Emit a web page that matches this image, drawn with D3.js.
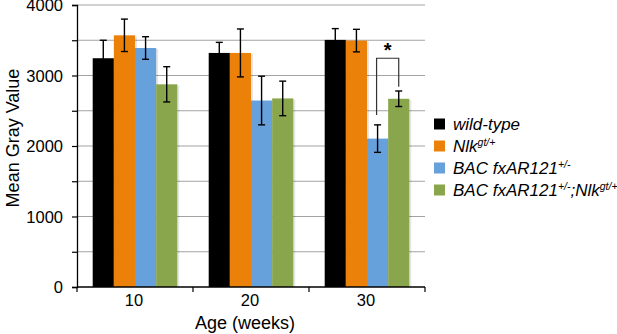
<!DOCTYPE html>
<html>
<head>
<meta charset="utf-8">
<script src="https://cdn.jsdelivr.net/npm/d3@7"></script>
<style>
  body { margin: 0; background: #fff; }
  svg { font-family: "Liberation Sans", Arial, sans-serif; }
</style>
</head>
<body>
<div id="chart"></div>
<script>
var ages = ["10", "20", "30"];
var seriesKeys = ["wt", "nlk", "bac", "bacNlk"];
var seriesColors = ["#000000", "#ec8109", "#67a1dc", "#8aa64c"];

var wildType = [3245, 3320, 3505];
var nlk = [3570, 3320, 3495];
var bac = [3390, 2645, 2105];
var bacNlk = [2875, 2675, 2670];

var wildTypeErr = [255, 150, 160];
var nlkErr = [230, 340, 160];
var bacErr = [160, 345, 195];
var bacNlkErr = [250, 245, 110];

var yTicks = [0, 500, 1000, 1500, 2000, 2500, 3000, 3500, 4000];

// significance bracket at 30 weeks between bac and bacNlk
var sigAge = "30";
var sigPair = ["bac", "bacNlk"];
var sigTop = 3245;
var sigEnds = [2440, 2840];
var sigLabel = "*";

var width = 617, height = 334;

var svg = d3.select("#chart")
  .append("svg")
  .attr("width", width)
  .attr("height", height);

var x0 = d3.scaleBand().domain(ages).range([77, 425]);
var x1 = d3.scaleBand().domain(seriesKeys).range([15.7, 100.3]);
var y = d3.scaleLinear().domain([0, 4000]).range([287, 5]);

var allMeans = [wildType, nlk, bac, bacNlk];
var allErrs = [wildTypeErr, nlkErr, bacErr, bacNlkErr];

var data = [];
ages.forEach(function(a, i) {
  seriesKeys.forEach(function(k, j) {
    data.push({ age: a, key: k, color: seriesColors[j], value: allMeans[j][i], err: allErrs[j][i] });
  });
});

// gridlines
svg.append("g")
  .selectAll(".grid")
  .data(yTicks.filter(function(d) { return d > 0; }))
  .enter()
  .append("line")
  .attr("class", "grid")
  .attr("x1", 77)
  .attr("x2", 425)
  .attr("y1", function(d) { return y(d); })
  .attr("y2", function(d) { return y(d); })
  .attr("stroke", "#a3a3a3")
  .attr("stroke-width", 1.2);

// bar shadows
svg.append("g")
  .selectAll(".shadow")
  .data(data)
  .enter()
  .append("rect")
  .attr("x", function(d) { return x0(d.age) + x1(d.key) + 2; })
  .attr("y", function(d) { return y(d.value) + 1; })
  .attr("width", x1.bandwidth())
  .attr("height", function(d) { return y(0) - y(d.value) - 1; })
  .attr("fill", "#000")
  .attr("opacity", 0.1);

// bars
svg.append("g")
  .selectAll(".bar")
  .data(data)
  .enter()
  .append("rect")
  .attr("class", "bar")
  .attr("x", function(d) { return x0(d.age) + x1(d.key); })
  .attr("y", function(d) { return y(d.value); })
  .attr("width", x1.bandwidth())
  .attr("height", function(d) { return y(0) - y(d.value); })
  .attr("fill", function(d) { return d.color; });

// error bars
var eb = svg.append("g")
  .selectAll(".err")
  .data(data)
  .enter()
  .append("g")
  .attr("stroke", "#000")
  .attr("stroke-width", 1.4);

function cx(d) { return x0(d.age) + x1(d.key) + x1.bandwidth() / 2; }

eb.append("line")
  .attr("x1", cx).attr("x2", cx)
  .attr("y1", function(d) { return y(d.value + d.err); })
  .attr("y2", function(d) { return y(d.value - d.err); });
eb.append("line")
  .attr("x1", function(d) { return cx(d) - 3.5; })
  .attr("x2", function(d) { return cx(d) + 3.5; })
  .attr("y1", function(d) { return y(d.value + d.err); })
  .attr("y2", function(d) { return y(d.value + d.err); });
eb.append("line")
  .attr("x1", function(d) { return cx(d) - 3.5; })
  .attr("x2", function(d) { return cx(d) + 3.5; })
  .attr("y1", function(d) { return y(d.value - d.err); })
  .attr("y2", function(d) { return y(d.value - d.err); });

// y axis
var yAxis = d3.axisLeft(y)
  .tickValues(yTicks)
  .tickSize(5)
  .tickPadding(9)
  .tickFormat(function(d) { return d % 1000 == 0 ? d : ""; });

var gy = svg.append("g")
  .attr("transform", "translate(77,0)")
  .call(yAxis);
gy.select(".domain").attr("stroke", "#000").attr("stroke-width", 1.3);
gy.selectAll(".tick line").attr("stroke", "#000").attr("stroke-width", 1.2);
gy.selectAll(".tick text")
  .attr("font-size", "16.5px")
  .attr("font-family", "Liberation Sans, Arial, sans-serif")
  .attr("fill", "#000")
  .attr("dy", "0.36em");

// x axis
var gx = svg.append("g").attr("transform", "translate(0,287)");
gx.append("line")
  .attr("x1", 77).attr("x2", 425)
  .attr("y1", 0).attr("y2", 0)
  .attr("stroke", "#000").attr("stroke-width", 1.3);
gx.selectAll(".xtick")
  .data(ages.concat(["end"]))
  .enter()
  .append("line")
  .attr("x1", function(d, i) { return i < ages.length ? x0(d) : x0.range()[1]; })
  .attr("x2", function(d, i) { return i < ages.length ? x0(d) : x0.range()[1]; })
  .attr("y1", 0).attr("y2", 5)
  .attr("stroke", "#000").attr("stroke-width", 1.2);
gx.selectAll(".xlabel")
  .data(ages)
  .enter()
  .append("text")
  .attr("x", function(d) { return x0(d) + x0.bandwidth() / 2 - 1; })
  .attr("y", 19)
  .attr("text-anchor", "middle")
  .attr("font-size", "16.5px")
  .text(function(d) { return d; });

// axis titles
svg.append("text")
  .attr("x", 245)
  .attr("y", 329)
  .attr("text-anchor", "middle")
  .attr("font-size", "18px")
  .text("Age (weeks)");

svg.append("text")
  .attr("transform", "translate(19,138) rotate(-90)")
  .attr("text-anchor", "middle")
  .attr("font-size", "18px")
  .text("Mean Gray Value");

// significance bracket
var bx1 = x0(sigAge) + x1(sigPair[0]) + x1.bandwidth() / 2 - 1;
var bx2 = x0(sigAge) + x1(sigPair[1]) + x1.bandwidth() / 2;
svg.append("path")
  .attr("d", "M" + bx1 + "," + y(sigEnds[0]) + "V" + y(sigTop) + "H" + bx2 + "V" + y(sigEnds[1]))
  .attr("fill", "none")
  .attr("stroke", "#333")
  .attr("stroke-width", 1.2);
svg.append("text")
  .attr("x", (bx1 + bx2) / 2)
  .attr("y", y(sigTop) - 1)
  .attr("text-anchor", "middle")
  .attr("font-size", "20px")
  .attr("font-weight", "bold")
  .text(sigLabel);

// legend
var legendData = [
  { parts: [["wild-type", false]] },
  { parts: [["Nlk", false], ["gt/+", true]] },
  { parts: [["BAC fxAR121", false], ["+/-", true]] },
  { parts: [["BAC fxAR121", false], ["+/-", true], [";Nlk", false], ["gt/+", true]] }
];

var legend = svg.append("g").attr("transform", "translate(434,124)");

legend.selectAll(".legendRect")
  .data(legendData)
  .enter()
  .append("rect")
  .attr("x", 0)
  .attr("y", function(d, i) { return i * 22 - 5.5; })
  .attr("width", 11)
  .attr("height", 11)
  .attr("fill", function(d, i) { return seriesColors[i]; });

var lt = legend.selectAll(".legendText")
  .data(legendData)
  .enter()
  .append("text")
  .attr("x", 19)
  .attr("y", function(d, i) { return i * 22 + 6; })
  .attr("font-size", "17px")
  .attr("font-style", "italic");

lt.each(function(d) {
  var t = d3.select(this);
  d.parts.forEach(function(p, k) {
    var sp = t.append("tspan").text(p[0]);
    if (p[1]) {
      sp.attr("font-size", "10.5px").attr("dy", "-6");
    } else if (k > 0 && d.parts[k - 1][1]) {
      sp.attr("dy", "6");
    }
  });
});
</script>
</body>
</html>
